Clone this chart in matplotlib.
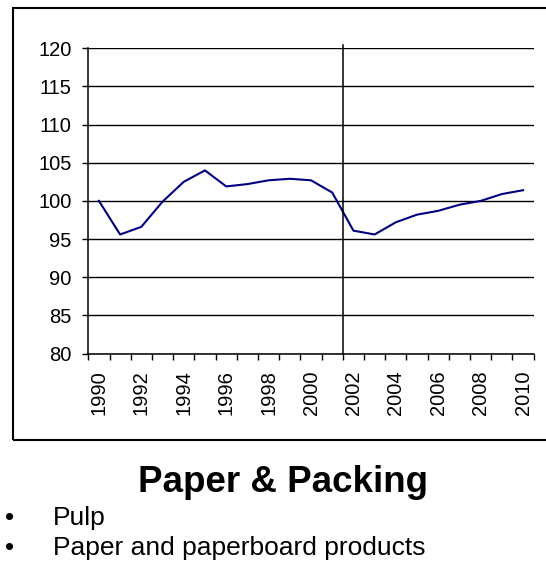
import numpy as np
import matplotlib
matplotlib.use('Agg')
import matplotlib.pyplot as plt
from matplotlib.patches import Rectangle

plt.rcParams['font.family'] = ['Liberation Sans', 'DejaVu Sans']

# index series (1990 = 100)
years = list(range(1990, 2011))
index_values = [100.0, 95.6, 96.6, 99.9, 102.5, 104.0, 101.9, 102.2, 102.7, 102.9,
                102.7, 101.1, 96.1, 95.6, 97.2, 98.2, 98.7, 99.5, 100.0, 100.9, 101.4]
y_ticks = [80, 85, 90, 95, 100, 105, 110, 115, 120]
divider_after = 2001  # vertical line between 2001 and 2002
title_text = 'Paper & Packing'
bullets = ['Pulp', 'Paper and paperboard products']

W, H = 546, 562


def fx(px):
    return px / W


def fy(py):
    return 1 - py / H


fig = plt.figure(figsize=(W / 100, H / 100), dpi=100)

# frame round the chart (right side runs off the picture)
fig.patches.append(Rectangle((fx(12.7), fy(440)), fx(565) - fx(12.7), fy(8.3) - fy(440),
                             transform=fig.transFigure, fill=False, edgecolor='black',
                             linewidth=1.5, clip_on=False))

ax = fig.add_axes([fx(88.3), fy(353.5), fx(533.7) - fx(88.3), fy(48.3) - fy(353.5)])

x = np.arange(len(years))
ax.plot(x, index_values, color='#000080', linewidth=1.5)

ax.set_xlim(-0.5, len(years) - 0.5)
ax.set_ylim(y_ticks[0], y_ticks[-1])

ax.set_yticks(y_ticks)
ax.set_yticklabels([str(v) for v in y_ticks])
ax.yaxis.grid(True, color='black', linewidth=1.0)
ax.set_axisbelow(True)

# ticks sit between categories, labels on every other category
ax.set_xticks(np.arange(len(years) + 1) - 0.5)
ax.set_xticklabels([])
ax.set_xticks(x[::2], minor=True)
ax.set_xticklabels([str(y) for y in years[::2]], minor=True, rotation=90)

ax.tick_params(axis='x', which='major', direction='out', length=4, width=1.0)
ax.tick_params(axis='x', which='minor', length=0, pad=12, labelsize=14.5)
ax.tick_params(axis='y', direction='out', length=4, width=1.0, pad=8, labelsize=14.5)

div_x = years.index(divider_after) + 0.5
ax.axvline(div_x, ymax=1.01, color='black', linewidth=1.1, clip_on=False)

for side in ['top', 'right']:
    ax.spines[side].set_visible(False)
for side in ['left', 'bottom']:
    ax.spines[side].set_linewidth(1.1)

fig.text(fx(283.5), fy(491.7), title_text, fontsize=26.5, fontweight='bold',
         ha='center', va='baseline')

for i, item in enumerate(bullets):
    base = 525 + 30 * i
    fig.text(fx(9.5), fy(base), '\u2022', fontsize=19, ha='center', va='baseline')
    fig.text(fx(52.7), fy(base), item, fontsize=19, ha='left', va='baseline')

fig.savefig('out.png', dpi=100)
